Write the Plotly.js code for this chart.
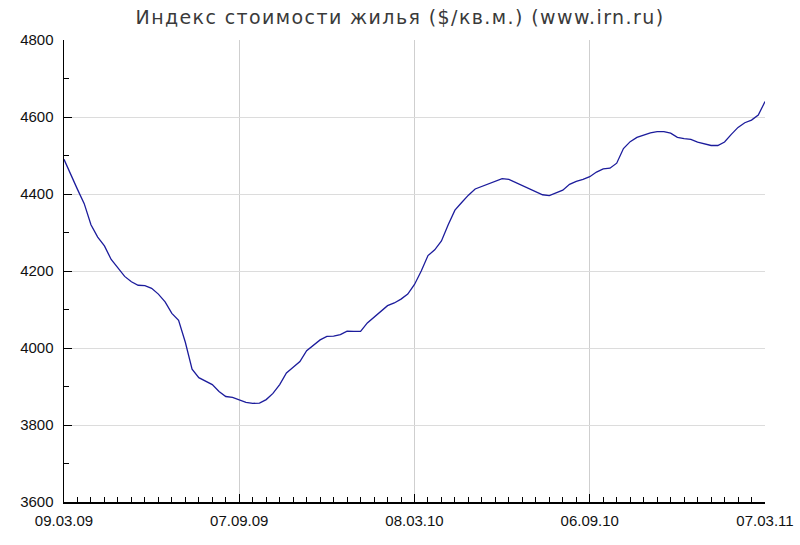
<!DOCTYPE html>
<html>
<head>
<meta charset="utf-8">
<script src="https://cdn.plot.ly/plotly-3.0.1.min.js"></script>
<style>
html,body{margin:0;padding:0;background:#fff;}
#chart{width:800px;height:545px;}
#chart .gtitle{letter-spacing:1.4px;}
</style>
</head>
<body>
<div id="chart"></div>
<script>
// Weekly index values ($/sq.m.), starting 09.03.2009
var startDate = '2009-03-09';
var values = [
  4490, 4450, 4412, 4375, 4320, 4288, 4265, 4230, 4208, 4186,
  4172, 4163, 4162, 4155, 4140, 4120, 4090, 4072, 4015, 3945,
  3923, 3915, 3905, 3887, 3874, 3872, 3866, 3859, 3856, 3857,
  3866, 3882, 3905, 3935, 3950, 3965, 3993, 4008, 4021, 4030,
  4031, 4035, 4044, 4043, 4043, 4065, 4080, 4095, 4110, 4117,
  4127, 4140, 4165, 4200, 4240, 4255, 4278, 4320, 4358, 4378,
  4397, 4413, 4420, 4427, 4432, 4440, 4438, 4430, 4422, 4413,
  4405, 4398, 4396, 4402, 4410, 4425, 4433, 4438, 4445, 4457,
  4465, 4467, 4480, 4518, 4536, 4547, 4553, 4559, 4562, 4562,
  4558, 4547, 4544, 4542, 4535, 4530, 4526, 4526, 4535, 4555,
  4573, 4585, 4592, 4605, 4640
];
var tickDates = ['2009-03-09', '2009-09-07', '2010-03-08', '2010-09-06', '2011-03-07'];
var tickLabels = ['09.03.09', '07.09.09', '08.03.10', '06.09.10', '07.03.11'];
var yTicks = [3600, 3800, 4000, 4200, 4400, 4600, 4800];

function weekDates(start, n) {
  var d0 = new Date(start + 'T00:00:00Z');
  var out = [];
  for (var i = 0; i < n; i++) {
    var d = new Date(d0.getTime() + i * 7 * 86400000);
    out.push(d.toISOString().slice(0, 10));
  }
  return out;
}
var dates = weekDates(startDate, values.length);

var trace = {
  x: dates, y: values, type: 'scatter', mode: 'lines',
  line: {color: '#1c1c9c', width: 1.3},
  hoverinfo: 'x+y'
};

var layout = {
  width: 800, height: 545,
  margin: {l: 64, r: 35, t: 40, b: 43},
  paper_bgcolor: '#fff', plot_bgcolor: '#fff',
  showlegend: false,
  title: {
    text: 'Индекс стоимости жилья ($/кв.м.) (www.irn.ru)',
    font: {family: 'DejaVu Sans', size: 19, color: '#3a3a3a'},
    x: 0.5, xanchor: 'center', y: 0.968, yanchor: 'middle'
  },
  xaxis: {
    type: 'date',
    range: [tickDates[0], tickDates[tickDates.length - 1]],
    tickmode: 'array', tickvals: tickDates, ticktext: tickLabels,
    ticks: 'inside', ticklen: 8, tickwidth: 1, tickcolor: '#000',
    showline: true, linecolor: '#000', linewidth: 1.5,
    showgrid: true, gridcolor: '#cfcfcf', gridwidth: 1,
    zeroline: false,
    tickfont: {family: 'Liberation Sans, Arial, sans-serif', size: 15, color: '#111'},
    ticklabelstandoff: 4,
    minor: {dtick: 14 * 86400000, tick0: startDate, ticks: 'inside', ticklen: 5, tickcolor: '#000', tickwidth: 1, showgrid: false}
  },
  yaxis: {
    range: [3600, 4800],
    tickmode: 'array', tickvals: yTicks,
    ticks: 'inside', ticklen: 8, tickwidth: 1, tickcolor: '#000',
    showline: true, linecolor: '#000', linewidth: 1.5,
    showgrid: true, gridcolor: '#dcdcdc', gridwidth: 1,
    zeroline: false,
    tickfont: {family: 'Liberation Sans, Arial, sans-serif', size: 15, color: '#111'},
    ticklabelstandoff: 6,
    minor: {dtick: 100, ticks: 'inside', ticklen: 5, tickcolor: '#000', tickwidth: 1, showgrid: false}
  }
};

Plotly.newPlot('chart', [trace], layout, {displayModeBar: false, staticPlot: true});
</script>
</body>
</html>
